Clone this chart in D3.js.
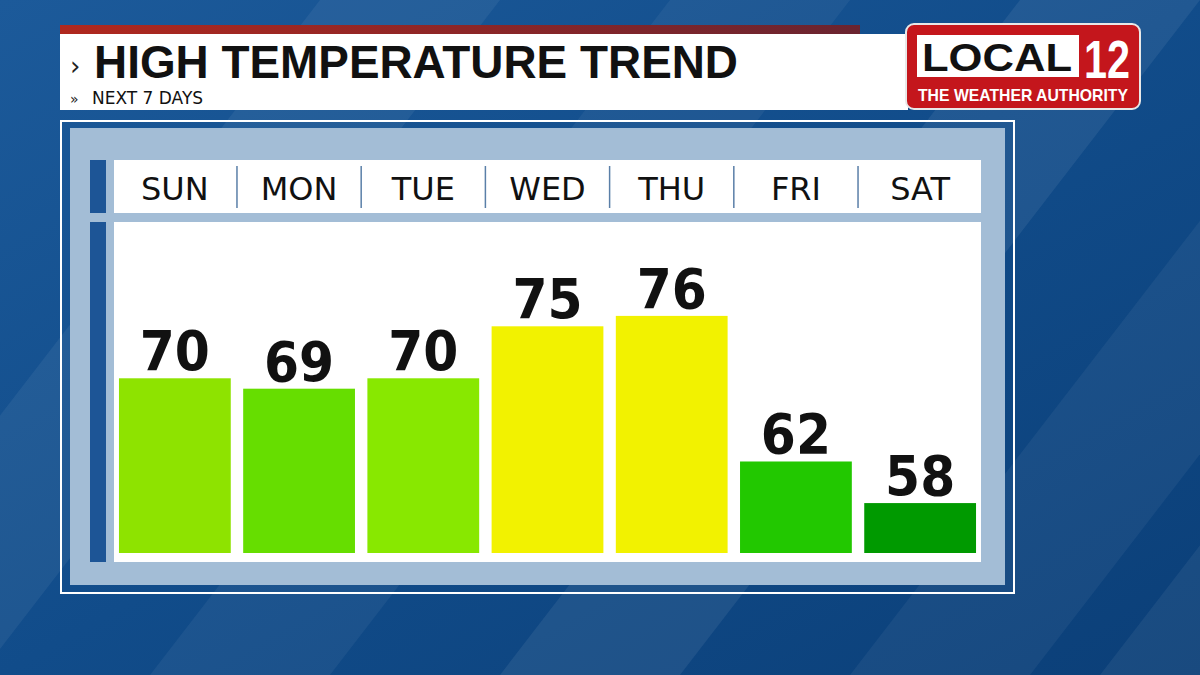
<!DOCTYPE html>
<html><head><meta charset="utf-8">
<script src="https://cdn.jsdelivr.net/npm/d3@7"></script>
<style>body{margin:0;overflow:hidden}svg{display:block}</style>
</head><body><div id="chart"></div>
<script>
const width = 1200, height = 675;
const days = ["SUN", "MON", "TUE", "WED", "THU", "FRI", "SAT"];
const highs = [70, 69, 70, 75, 76, 62, 58];
const barColors = ["#8ee300", "#66de00", "#88e800", "#f2f200", "#f2f200", "#22c800", "#009a00"];

const svg = d3.select("#chart").append("svg").attr("width", width).attr("height", height)
    .style("font-family", "'DejaVu Sans', sans-serif");
const defs = svg.append("defs");
const bg = defs.append("linearGradient").attr("id", "bg").attr("x1", 0).attr("y1", 0).attr("x2", 1).attr("y2", 1);
bg.append("stop").attr("offset", 0).attr("stop-color", "#1c5a9a");
bg.append("stop").attr("offset", 0.5).attr("stop-color", "#114c8a");
bg.append("stop").attr("offset", 1).attr("stop-color", "#0b3f78");
const red = defs.append("linearGradient").attr("id", "red");
red.append("stop").attr("offset", 0).attr("stop-color", "#b0281e");
red.append("stop").attr("offset", 1).attr("stop-color", "#6a2430");

// Background
svg.append("rect").attr("width", width).attr("height", height).attr("fill", "url(#bg)");
[[-200, 0.06], [150, 0.05], [500, 0.07], [850, 0.05], [1100, 0.06]].forEach(([x, o]) => {
    svg.append("polygon")
        .attr("points", `${x},675 ${x + 180},675 ${x + 700},0 ${x + 520},0`)
        .attr("fill", "#ffffff").attr("opacity", o);
});

// Header
svg.append("rect").attr("x", 60).attr("y", 25).attr("width", 800).attr("height", 9).attr("fill", "url(#red)");
svg.append("rect").attr("x", 60).attr("y", 34).attr("width", 848).attr("height", 76).attr("fill", "#fff");
svg.append("text").attr("x", 70).attr("y", 75).attr("font-size", 26).attr("fill", "#222").text("›");
svg.append("text").attr("x", 94).attr("y", 78).attr("font-size", 46).attr("font-weight", "bold")
    .attr("fill", "#111").attr("font-family", "'Liberation Sans Narrow', 'Liberation Sans', sans-serif")
    .attr("textLength", 644).attr("lengthAdjust", "spacingAndGlyphs")
    .text("HIGH TEMPERATURE TREND");
svg.append("text").attr("x", 70).attr("y", 104).attr("font-size", 14).attr("fill", "#222").text("»");
svg.append("text").attr("x", 92).attr("y", 104).attr("font-size", 17).attr("fill", "#111").text("NEXT 7 DAYS");

// Logo
svg.append("rect").attr("x", 906).attr("y", 24).attr("width", 234).attr("height", 85).attr("rx", 8)
    .attr("fill", "#c4161c").attr("stroke", "#e8e8e8").attr("stroke-width", 2);
svg.append("rect").attr("x", 917).attr("y", 35).attr("width", 162).attr("height", 42).attr("fill", "#fff");
svg.append("text").attr("x", 922).attr("y", 71).attr("font-size", 38)
    .attr("font-weight", "bold").attr("font-family", "'Liberation Sans', sans-serif").attr("fill", "#111")
    .attr("textLength", 150).attr("lengthAdjust", "spacingAndGlyphs").text("LOCAL");
svg.append("text").attr("x", 1084).attr("y", 78).attr("font-size", 54)
    .attr("font-weight", "bold").attr("font-family", "'Liberation Sans Narrow', 'Liberation Sans', sans-serif")
    .attr("fill", "#fff").attr("textLength", 46).attr("lengthAdjust", "spacingAndGlyphs").text("12");
svg.append("text").attr("x", 1023).attr("y", 101).attr("text-anchor", "middle").attr("font-size", 17)
    .attr("font-weight", "bold").attr("font-family", "'Liberation Sans Narrow', 'Liberation Sans', sans-serif").attr("fill", "#fff")
    .attr("textLength", 210).attr("lengthAdjust", "spacingAndGlyphs").text("THE WEATHER AUTHORITY");

// Panel
svg.append("rect").attr("x", 61).attr("y", 121).attr("width", 953).attr("height", 472)
    .attr("fill", "none").attr("stroke", "#fff").attr("stroke-width", 2);
svg.append("rect").attr("x", 70).attr("y", 128).attr("width", 935).attr("height", 457).attr("fill", "#a3bdd6");
svg.append("rect").attr("x", 90).attr("y", 160).attr("width", 16).attr("height", 53).attr("fill", "#1d5596");
svg.append("rect").attr("x", 90).attr("y", 222).attr("width", 16).attr("height", 340).attr("fill", "#1d5596");
svg.append("rect").attr("x", 114).attr("y", 160).attr("width", 867).attr("height", 53).attr("fill", "#fff");
svg.append("rect").attr("x", 114).attr("y", 222).attr("width", 867).attr("height", 340).attr("fill", "#fff");

const x = d3.scaleBand().domain(days).range([114, 981]).paddingInner(0.1).paddingOuter(0.04);
const y = d3.scaleLinear().domain([53.2, 80]).range([553, 274.3]);

svg.selectAll(".day").data(days).enter().append("text")
    .attr("x", d => x(d) + x.bandwidth() / 2).attr("y", 200).attr("text-anchor", "middle")
    .attr("font-size", 32).attr("fill", "#111").text(d => d);
svg.selectAll(".sep").data(days.slice(1)).enter().append("line")
    .attr("x1", d => x(d) - x.step() * 0.05).attr("x2", d => x(d) - x.step() * 0.05)
    .attr("y1", 166).attr("y2", 208).attr("stroke", "#5a7fa8").attr("stroke-width", 1.5);

svg.selectAll(".bar").data(highs).enter().append("rect")
    .attr("x", (d, i) => x(days[i])).attr("width", x.bandwidth())
    .attr("y", d => y(d)).attr("height", d => y.range()[0] - y(d))
    .attr("fill", (d, i) => barColors[i]);
svg.selectAll(".val").data(highs).enter().append("text")
    .attr("x", (d, i) => x(days[i]) + x.bandwidth() / 2).attr("y", d => y(d) - 8)
    .attr("text-anchor", "middle").attr("font-size", 56).attr("font-weight", "bold")
    .attr("font-family", "'DejaVu Sans Condensed', 'DejaVu Sans', sans-serif")
    .attr("fill", "#111").text(d => d);
</script></body></html>
